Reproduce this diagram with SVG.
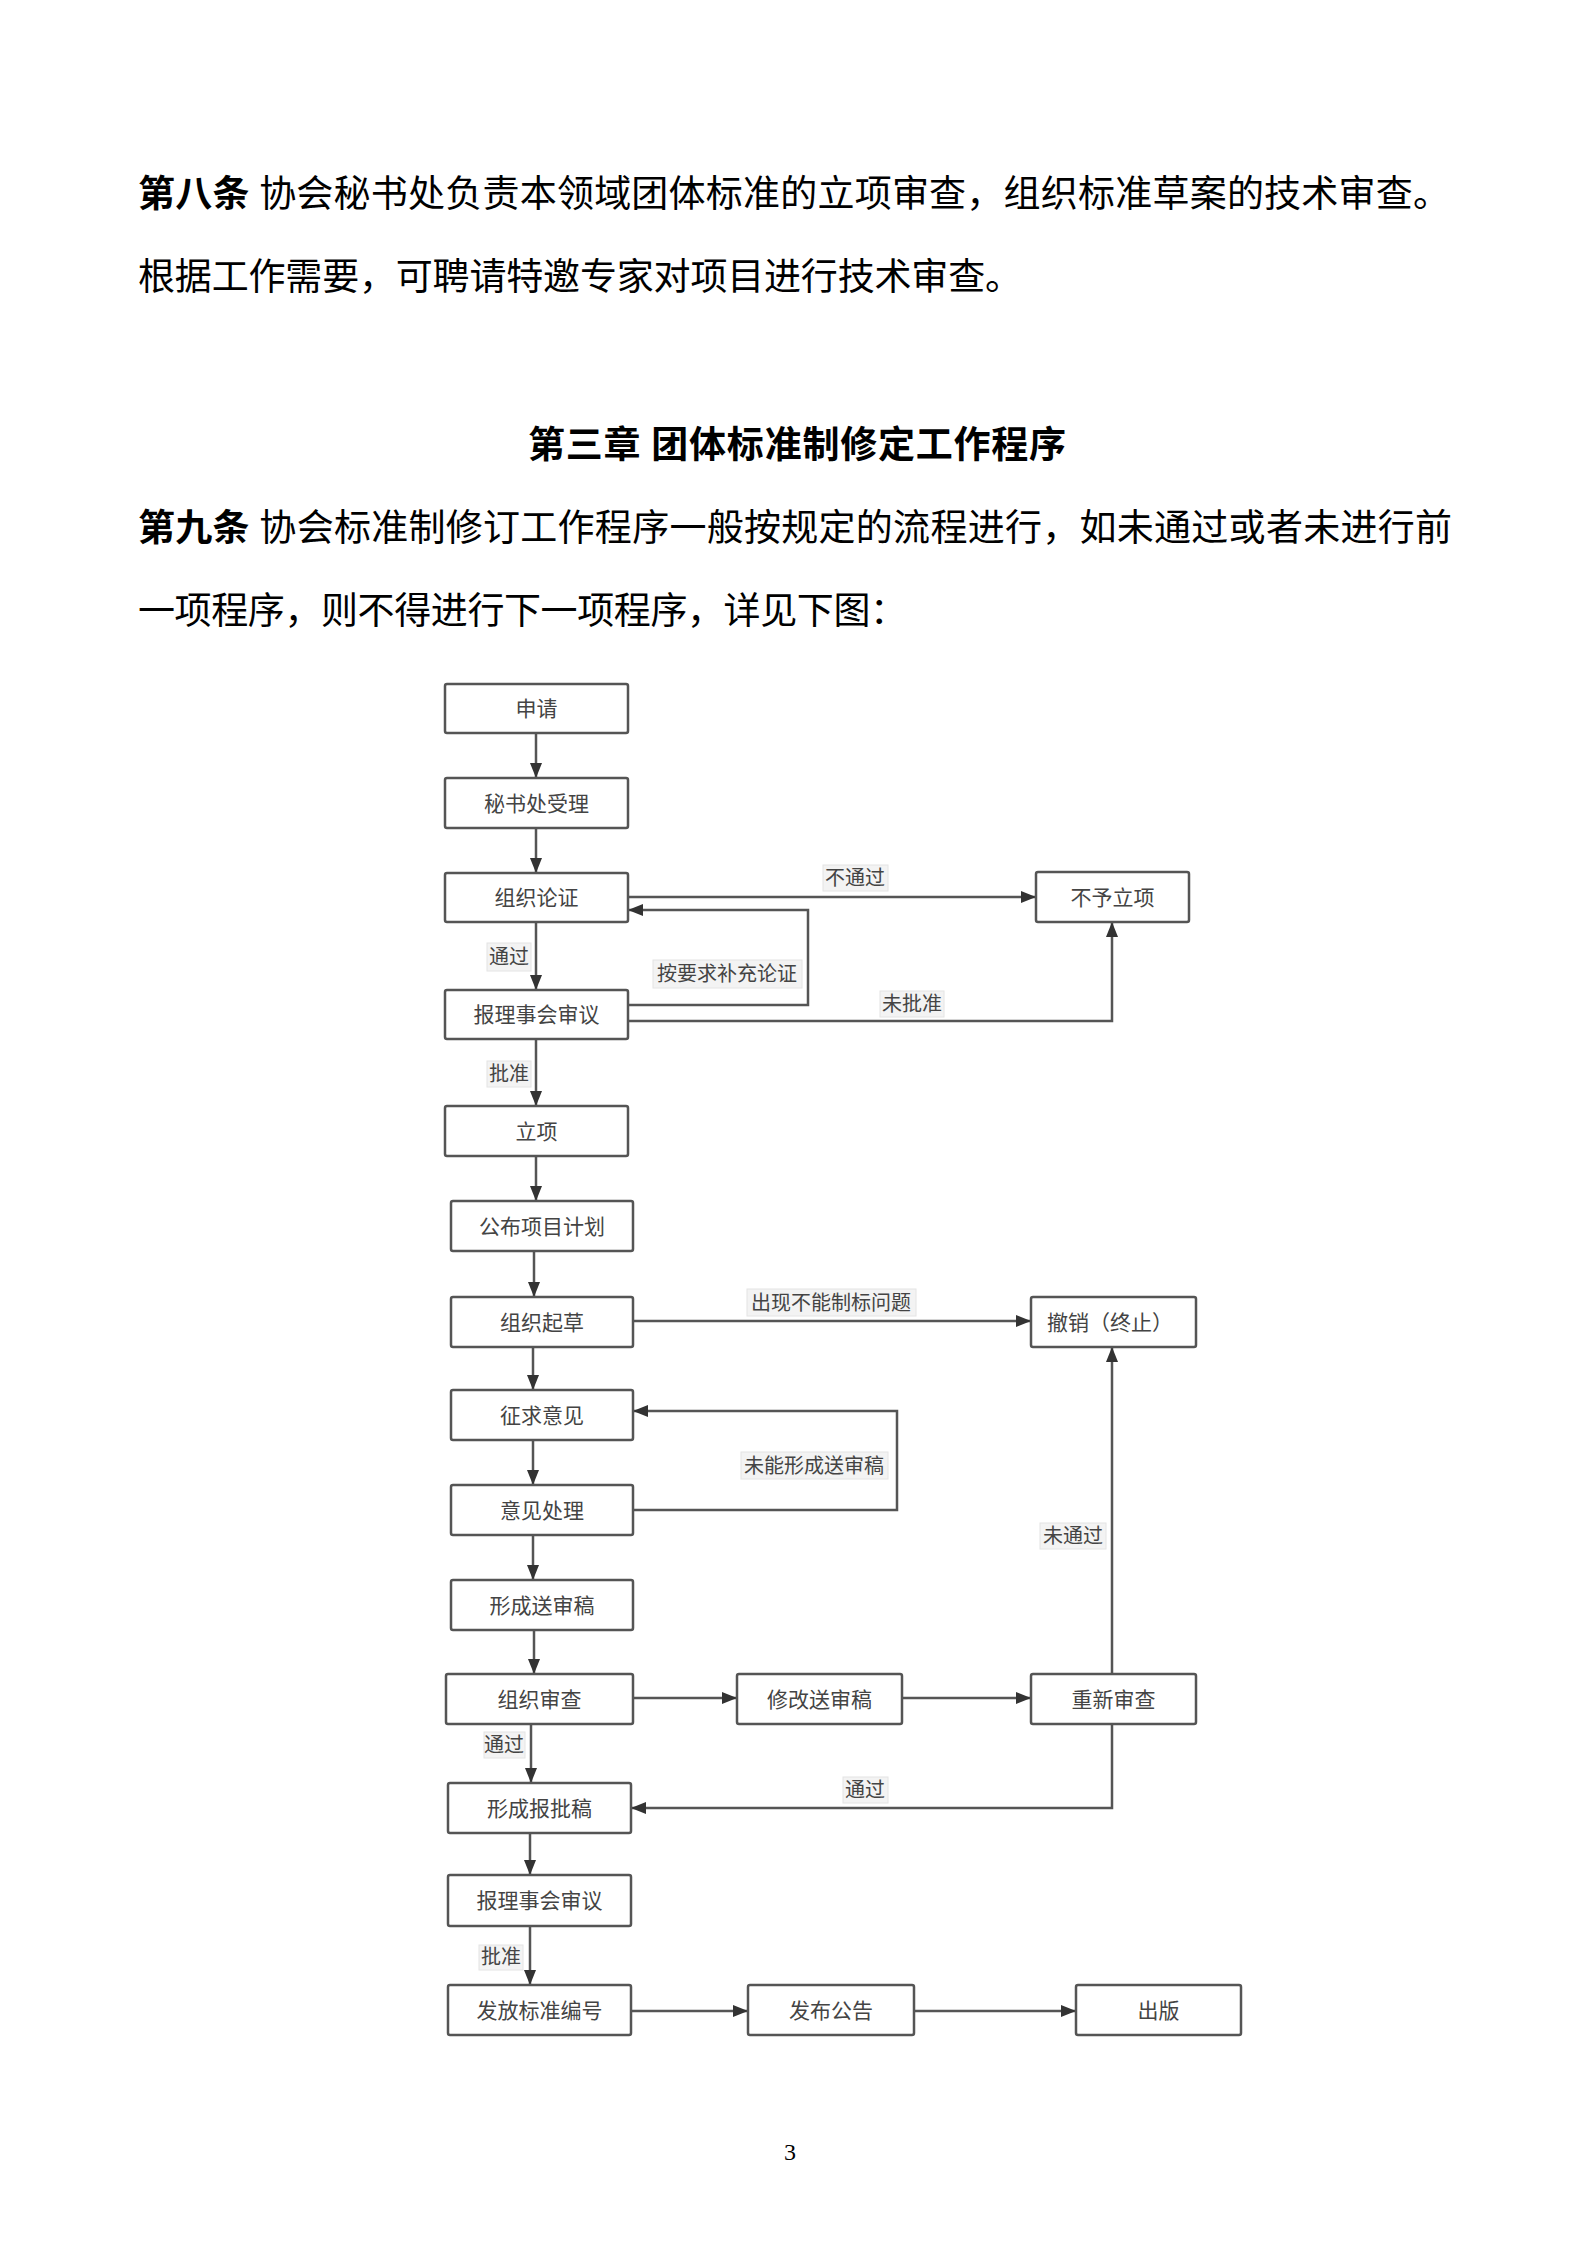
<svg xmlns="http://www.w3.org/2000/svg" width="1587" height="2245" viewBox="0 0 1587 2245">
<style>
.para{font-family:"Liberation Serif","Noto Sans CJK SC",serif;font-size:37px;fill:#000}
.b{font-weight:bold}
.box{fill:#fff;stroke:#555;stroke-width:2.5}
.bt{font-family:"Noto Sans CJK SC","Noto Sans",sans-serif;font-size:21px;fill:#444;text-anchor:middle}
.lbg{fill:#f3f3f3;stroke:#e4e4e4;stroke-width:1}
.lt{font-family:"Noto Sans CJK SC","Noto Sans",sans-serif;font-size:20px;fill:#444;text-anchor:middle}
.ln{fill:none;stroke:#555;stroke-width:2.5}
.arr{fill:none;stroke:#555;stroke-width:2.5;marker-end:url(#ah)}
</style>
<defs>
<marker id="ah" markerUnits="userSpaceOnUse" markerWidth="16" markerHeight="12" refX="15" refY="6" orient="auto">
<path d="M0,0 L15,6 L0,12 z" fill="#333"/>
</marker>
</defs>
<rect x="0" y="0" width="1587" height="2245" fill="#fff"/>
<g id="text">
<text class="para" x="138" y="207" textLength="1312" lengthAdjust="spacing"><tspan class="b">第八条</tspan> 协会秘书处负责本领域团体标准的立项审查，组织标准草案的技术审查。</text>
<text class="para" x="138" y="290" textLength="884" lengthAdjust="spacing">根据工作需要，可聘请特邀专家对项目进行技术审查。</text>
<text class="para b" x="528" y="458" textLength="538" lengthAdjust="spacing">第三章 团体标准制修定工作程序</text>
<text class="para" x="138" y="541" textLength="1314" lengthAdjust="spacing"><tspan class="b">第九条</tspan> 协会标准制修订工作程序一般按规定的流程进行，如未通过或者未进行前</text>
<text class="para" x="138" y="624" textLength="769" lengthAdjust="spacing">一项程序，则不得进行下一项程序，详见下图：</text>
<text x="790" y="2160" font-family="Liberation Serif,serif" font-size="24" text-anchor="middle" fill="#000">3</text>
</g>
<g id="connectors">
<line class="arr" x1="536" y1="733" x2="536" y2="778"/>
<line class="arr" x1="536" y1="828" x2="536" y2="873"/>
<line class="arr" x1="536" y1="922" x2="536" y2="990"/>
<line class="arr" x1="536" y1="1039" x2="536" y2="1106"/>
<line class="arr" x1="536" y1="1156" x2="536" y2="1201"/>
<line class="arr" x1="534" y1="1251" x2="534" y2="1297"/>
<line class="arr" x1="533" y1="1347" x2="533" y2="1390"/>
<line class="arr" x1="533" y1="1440" x2="533" y2="1485"/>
<line class="arr" x1="533" y1="1535" x2="533" y2="1580"/>
<line class="arr" x1="534" y1="1630" x2="534" y2="1674"/>
<line class="arr" x1="531" y1="1724" x2="531" y2="1783"/>
<line class="arr" x1="530" y1="1833" x2="530" y2="1875"/>
<line class="arr" x1="530" y1="1926" x2="530" y2="1985"/>
<line class="arr" x1="631" y1="2011" x2="748" y2="2011"/>
<line class="arr" x1="914" y1="2011" x2="1076" y2="2011"/>
<line class="arr" x1="628" y1="897" x2="1036" y2="897"/>
<path class="arr" d="M628,1005 H808 V910 H628"/>
<path class="arr" d="M628,1021 H1112 V922"/>
<line class="arr" x1="633" y1="1321" x2="1031" y2="1321"/>
<path class="arr" d="M633,1510 H897 V1411 H633"/>
<line class="arr" x1="633" y1="1698" x2="737" y2="1698"/>
<line class="arr" x1="902" y1="1698" x2="1031" y2="1698"/>
<line class="arr" x1="1112" y1="1674" x2="1112" y2="1347"/>
<path class="arr" d="M1112,1724 V1808 H631"/>
</g>
<g id="edge-labels">
<rect class="lbg" x="487" y="943" width="44" height="28"/><text class="lt" x="509" y="964">通过</text>
<rect class="lbg" x="487" y="1061" width="44" height="26"/><text class="lt" x="509" y="1081">批准</text>
<rect class="lbg" x="653" y="960" width="149" height="28"/><text class="lt" x="727" y="981">按要求补充论证</text>
<rect class="lbg" x="823" y="865" width="65" height="26"/><text class="lt" x="855" y="885">不通过</text>
<rect class="lbg" x="880" y="991" width="64" height="26"/><text class="lt" x="912" y="1011">未批准</text>
<rect class="lbg" x="747" y="1289" width="169" height="27"/><text class="lt" x="831" y="1310">出现不能制标问题</text>
<rect class="lbg" x="741" y="1452" width="147" height="27"/><text class="lt" x="814" y="1473">未能形成送审稿</text>
<rect class="lbg" x="1040" y="1523" width="66" height="26"/><text class="lt" x="1073" y="1543">未通过</text>
<rect class="lbg" x="484" y="1732" width="41" height="26"/><text class="lt" x="504" y="1752">通过</text>
<rect class="lbg" x="843" y="1777" width="45" height="26"/><text class="lt" x="865" y="1797">通过</text>
<rect class="lbg" x="479" y="1945" width="44" height="25"/><text class="lt" x="501" y="1964">批准</text>
</g>
<g id="n1"><rect class="box" x="445" y="684" width="183" height="49" rx="2"/><text class="bt" x="536.5" y="716">申请</text></g>
<g id="n2"><rect class="box" x="445" y="778" width="183" height="50" rx="2"/><text class="bt" x="536.5" y="811">秘书处受理</text></g>
<g id="n3"><rect class="box" x="445" y="873" width="183" height="49" rx="2"/><text class="bt" x="536.5" y="905">组织论证</text></g>
<g id="n4"><rect class="box" x="445" y="990" width="183" height="49" rx="2"/><text class="bt" x="536.5" y="1022">报理事会审议</text></g>
<g id="n5"><rect class="box" x="445" y="1106" width="183" height="50" rx="2"/><text class="bt" x="536.5" y="1139">立项</text></g>
<g id="n6"><rect class="box" x="451" y="1201" width="182" height="50" rx="2"/><text class="bt" x="542" y="1234">公布项目计划</text></g>
<g id="n7"><rect class="box" x="451" y="1297" width="182" height="50" rx="2"/><text class="bt" x="542" y="1330">组织起草</text></g>
<g id="n8"><rect class="box" x="451" y="1390" width="182" height="50" rx="2"/><text class="bt" x="542" y="1423">征求意见</text></g>
<g id="n9"><rect class="box" x="451" y="1485" width="182" height="50" rx="2"/><text class="bt" x="542" y="1518">意见处理</text></g>
<g id="n10"><rect class="box" x="451" y="1580" width="182" height="50" rx="2"/><text class="bt" x="542" y="1613">形成送审稿</text></g>
<g id="n11"><rect class="box" x="446" y="1674" width="187" height="50" rx="2"/><text class="bt" x="539.5" y="1707">组织审查</text></g>
<g id="n12"><rect class="box" x="448" y="1783" width="183" height="50" rx="2"/><text class="bt" x="539.5" y="1816">形成报批稿</text></g>
<g id="n13"><rect class="box" x="448" y="1875" width="183" height="51" rx="2"/><text class="bt" x="539.5" y="1908">报理事会审议</text></g>
<g id="n14"><rect class="box" x="448" y="1985" width="183" height="50" rx="2"/><text class="bt" x="539.5" y="2018">发放标准编号</text></g>
<g id="n15"><rect class="box" x="748" y="1985" width="166" height="50" rx="2"/><text class="bt" x="831" y="2018">发布公告</text></g>
<g id="n16"><rect class="box" x="1076" y="1985" width="165" height="50" rx="2"/><text class="bt" x="1158.5" y="2018">出版</text></g>
<g id="n17"><rect class="box" x="1036" y="872" width="153" height="50" rx="2"/><text class="bt" x="1112.5" y="905">不予立项</text></g>
<g id="n18"><rect class="box" x="1031" y="1297" width="165" height="50" rx="2"/><text class="bt" x="1110" y="1330">撤销（终止）</text></g>
<g id="n19"><rect class="box" x="737" y="1674" width="165" height="50" rx="2"/><text class="bt" x="819.5" y="1707">修改送审稿</text></g>
<g id="n20"><rect class="box" x="1031" y="1674" width="165" height="50" rx="2"/><text class="bt" x="1113.5" y="1707">重新审查</text></g>
</svg>
